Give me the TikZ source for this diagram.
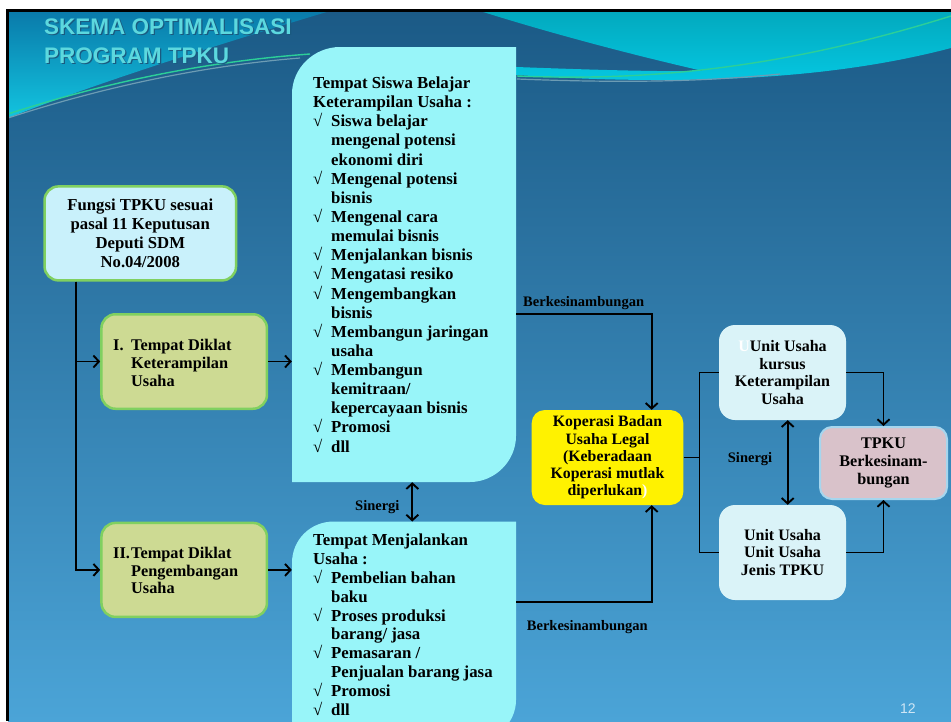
\documentclass[tikz,border=0pt]{standalone}
\usepackage{fontspec}
\setmainfont{Liberation Serif}
\newfontfamily\titlefont{Liberation Sans}
\usetikzlibrary{arrows.meta}
\definecolor{bgtop}{HTML}{1B5A86}
\definecolor{bgmid}{HTML}{2F7FB5}
\definecolor{bgbot}{HTML}{4BA4D7}
\definecolor{tltop}{HTML}{0A7AAA}
\definecolor{tlbot}{HTML}{12C4DF}
\definecolor{trtop}{HTML}{02A9BE}
\definecolor{trmid}{HTML}{0898D6}
\definecolor{trbot}{HTML}{05C6E0}
\definecolor{streakg}{HTML}{2CCF98}
\definecolor{streakb}{HTML}{6C9CB4}
\definecolor{titlecol}{HTML}{5CD8DE}
\definecolor{titleshadow}{HTML}{1A5A80}
\definecolor{fungsifill}{HTML}{C9F1FB}
\definecolor{gborder}{HTML}{80D060}
\definecolor{olive}{HTML}{CDDA93}
\definecolor{aqua}{HTML}{98F5F9}
\definecolor{unitfill}{HTML}{DAF3F8}
\definecolor{tpkufill}{HTML}{D9C2CA}
\definecolor{tpkuborder}{HTML}{A6D6EE}
\definecolor{pagecol}{HTML}{CFE6F5}
\newcommand{\ckm}{\makebox[18pt][l]{√}}
\newcommand{\indm}{\hspace*{18pt}}
\begin{document}
\begin{tikzpicture}[x=1pt,y=-1pt,
  gbox/.style={draw=gborder, line width=2.5pt, rounded corners=14pt, inner sep=0pt},
  txt/.style={font=\bfseries\fontsize{16.3}{17.8}\selectfont, inner sep=0pt},
  lst/.style={font=\bfseries\fontsize{16.8}{19.14}\selectfont, align=left, inner sep=0pt, anchor=north west},
  lbl/.style={font=\bfseries\fontsize{14.5}{16}\selectfont, inner sep=0pt, anchor=base west},
  unitbox/.style={fill=unitfill, rounded corners=16pt, minimum width=127pt, minimum height=95pt, inner sep=0pt, align=center, font=\bfseries\fontsize{16}{17.5}\selectfont},
  titletxt/.style={font=\titlefont\bfseries\fontsize{22.5}{24}\selectfont, inner sep=0pt, anchor=base west},
  conn/.style={line width=1.9pt},
  arr/.style={conn, -{Straight Barb[length=5.5pt,width=12pt]}},
  darr/.style={conn, {Straight Barb[length=5.5pt,width=12pt]}-{Straight Barb[length=5.5pt,width=12pt]}}]
\useasboundingbox (0,0) rectangle (951,721);
\begin{scope}
\clip (0,0) rectangle (951,721);
% background
\fill[white] (0,0) rectangle (951,721);
\shade[top color=bgtop, middle color=bgmid, bottom color=bgbot] (8,11) rectangle (951,721);
% top-left wave
\shade[top color=tltop, bottom color=tlbot] (8,11) -- (330,11) .. controls (240,38) and (110,78) .. (8,118) -- cycle;
\draw[streakg, line width=1.4pt] (8,114) .. controls (100,84) and (200,62) .. (310,54);
\draw[streakb, line width=1.2pt] (8,118) .. controls (100,88) and (200,66) .. (300,58);
% top-right wave
\shade[top color=trtop, middle color=trmid, bottom color=trbot] (480,11) -- (951,11) -- (951,48) .. controls (860,72) and (760,80) .. (660,80) .. controls (580,80) and (500,75) .. (440,68) -- (440,64) .. controls (540,68) and (640,72) .. (703,71) .. controls (620,52) and (540,30) .. (480,11) -- cycle;
\draw[streakg, line width=1.4pt] (517,76) .. controls (620,80) and (760,76) .. (951,16);
\draw[streakb, line width=1.2pt] (517,79) .. controls (620,83) and (700,82) .. (780,74);
% frame
\fill[black] (6,9) rectangle (951,12);
\fill[black] (6,9) rectangle (9,721);
% title
\node[titletxt, text=titleshadow] (t1s) at (45.2,35.2) {SKEMA OPTIMALISASI};
\node[titletxt, text=titlecol] (t1) at (44,34) {SKEMA OPTIMALISASI};
\node[titletxt, text=titleshadow] (t2s) at (45.2,64.2) {PROGRAM TPKU};
\node[titletxt, text=titlecol] (t2) at (44,63) {PROGRAM TPKU};
% big aqua boxes
\fill[aqua] (292,482) -- (292,94) .. controls (292,68) and (314,47) .. (340,47) -- (516,47) -- (516,436) .. controls (516,461) and (495,482) .. (470,482) -- cycle;
\node[minimum width=224pt, minimum height=435pt, inner sep=0pt] (belajar) at (404,264.5) {};
\node[lst] (belajart) at (313,76.6) {Tempat Siswa Belajar\\Keterampilan Usaha :\\\ckm Siswa belajar\\\indm mengenal potensi\\\indm ekonomi diri\\\ckm Mengenal potensi\\\indm bisnis\\\ckm Mengenal cara\\\indm memulai bisnis\\\ckm Menjalankan bisnis\\\ckm Mengatasi resiko\\\ckm Mengembangkan\\\indm bisnis\\\ckm Membangun jaringan\\\indm usaha\\\ckm Membangun\\\indm kemitraan/\\\indm kepercayaan bisnis\\\ckm Promosi\\\ckm dll};
\fill[aqua] (292,740) -- (292,563) .. controls (292,540) and (310,521.5) .. (334,521.5) -- (516,521.5) -- (516,700) .. controls (516,722) and (498,740) .. (476,740) -- cycle;
\node[minimum width=224pt, minimum height=200pt, inner sep=0pt, anchor=north] (jalan) at (404,521.5) {};
\node[lst, font=\bfseries\fontsize{16.8}{18.9}\selectfont] (jalant) at (313,533.6) {Tempat Menjalankan\\Usaha :\\\ckm Pembelian bahan\\\indm baku\\\ckm Proses produksi\\\indm barang/ jasa\\\ckm Pemasaran /\\\indm Penjualan barang jasa\\\ckm Promosi\\\ckm dll};
% left boxes
\node[gbox, fill=fungsifill, minimum width=191.5pt, minimum height=94pt, align=center, font=\bfseries\fontsize{16.7}{18.8}\selectfont] (fungsi) at (140.3,233.4) {Fungsi TPKU sesuai\\pasal 11 Keputusan\\Deputi SDM\\No.04/2008};
\node[gbox, fill=olive, minimum width=165.5pt, minimum height=94.5pt] (diklat1) at (184.2,361.5) {};
\node[txt, anchor=west, align=left] (d1t) at (113,363) {\makebox[18pt][l]{I.}Tempat Diklat\\\indm Keterampilan\\\indm Usaha};
\node[gbox, fill=olive, minimum width=165.5pt, minimum height=94pt] (diklat2) at (184.2,569.9) {};
\node[txt, anchor=west, align=left] (d2t) at (113,570.5) {\makebox[18pt][l]{II.}Tempat Diklat\\\indm Pengembangan\\\indm Usaha};
% koperasi
\node[fill=yellow, rounded corners=13pt, minimum width=151.6pt, minimum height=95pt, inner sep=0pt, align=center, font=\bfseries\fontsize{15.8}{17.2}\selectfont] (kop) at (607.5,457.5) {Koperasi Badan\\Usaha Legal\\(Keberadaan\\Koperasi mutlak\\diperlukan\textcolor{white}{)}};
% right boxes
\node[unitbox] (unit1) at (782.5,372.5) {\textcolor{white}{U}Unit Usaha\\kursus\\Keterampilan\\Usaha};
\node[unitbox] (unit2) at (782.5,552.5) {Unit Usaha\\Unit Usaha\\Jenis TPKU};
\node[fill=tpkufill, draw=tpkuborder, line width=2pt, rounded corners=12pt, minimum width=127pt, minimum height=72pt, inner sep=0pt, align=center, font=\bfseries\fontsize{16.2}{18}\selectfont] (tpku) at (883.5,463) {TPKU\\Berkesinam-\\bungan};
% helper coordinates
\coordinate (tx) at (75.7,0);
\coordinate (yb) at (0,314);
\coordinate (yb2) at (0,602);
\coordinate (sx) at (412.3,0);
\coordinate (brk) at (699.5,0);
\coordinate (ux) at (787.7,0);
% connectors
\draw[arr] (fungsi.south -| tx) |- (diklat1.west);
\draw[arr] (fungsi.south -| tx) |- (diklat2.west);
\draw[arr] (diklat1.east) -- (diklat1.east -| belajar.west);
\draw[arr] (diklat2.east) -- (diklat2.east -| jalan.west);
\draw[darr] (belajar.south -| sx) -- (jalan.north -| sx);
\draw[arr] (belajar.east |- yb) -| ([xshift=44.2pt]kop.north);
\draw[arr] (jalan.east |- yb2) -| ([xshift=44.2pt]kop.south);
\draw[conn] (kop.east) -- (kop.east -| brk);
\draw[conn] (unit1.west) -- (unit1.west -| brk) -- (unit2.west -| brk) -- (unit2.west);
\draw[arr] (unit1.east) -| (tpku.north);
\draw[arr] (unit2.east) -| (tpku.south);
\draw[darr] (unit1.south -| ux) -- (unit2.north -| ux);
% labels
\node[lbl] (bk1) at (523,306.7) {Berkesinambungan};
\node[lbl] (bk2) at (526.7,630) {Berkesinambungan};
\node[lbl] (sn1) at (355,510.7) {Sinergi};
\node[lbl] (sn2) at (727.7,462.7) {Sinergi};
% page number
\node[font=\titlefont\fontsize{14}{14}\selectfont, text=pagecol, inner sep=0pt, anchor=base west] (pg) at (900,713) {12};
\end{scope}
\end{tikzpicture}
\end{document}
